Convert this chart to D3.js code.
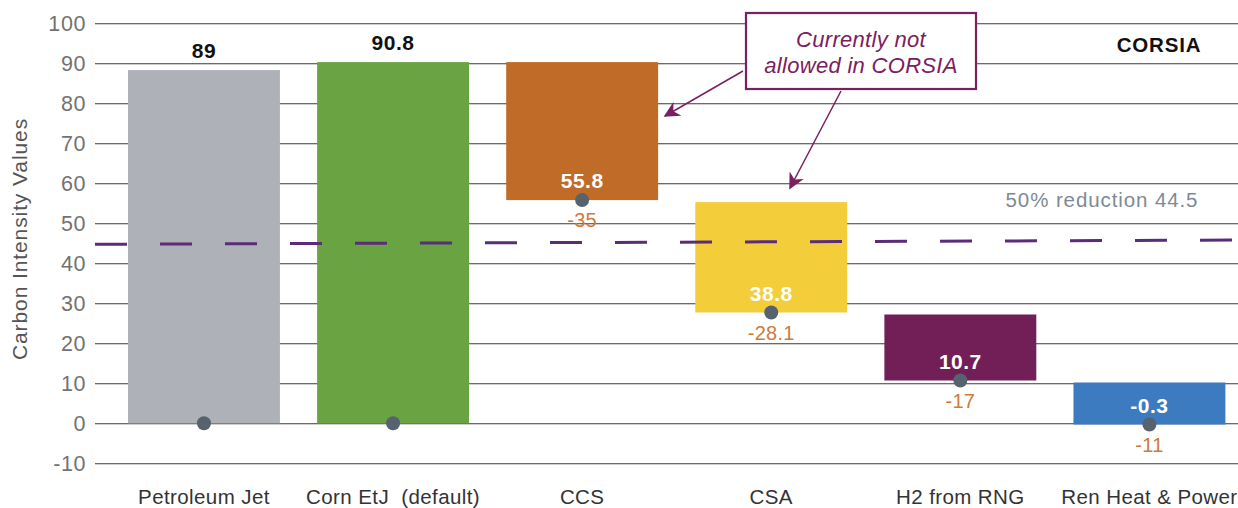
<!DOCTYPE html>
<html><head><meta charset="utf-8">
<script src="https://cdn.jsdelivr.net/npm/d3@7/dist/d3.min.js"></script>
<style>
html,body{margin:0;padding:0;background:#fff;}
svg{display:block;font-family:"Liberation Sans",Arial,Helvetica,sans-serif;}
</style></head>
<body><svg id="chart" width="1238" height="508"></svg>
<script>
const categories = ["Petroleum Jet","Corn EtJ  (default)","CCS","CSA","H2 from RNG","Ren Heat & Power"];
const barTop     = [88.3, 90.3, 90.3, 55.3, 27.2, 10.2];
const barBottom  = [0, 0, 55.8, 27.7, 10.7, -0.3];
const dotValues  = [0, 0, 55.8, 27.7, 10.7, -0.3];
const valueLabels = ["89","90.8","55.8","38.8","10.7","-0.3"];
const deltaLabels = ["","","-35","-28.1","-17","-11"];
const barColors  = ["#aeb1b8","#6aa342","#c06c28","#f4cd3a","#731f57","#3c7bc0"];
const yTicks = [-10,0,10,20,30,40,50,60,70,80,90,100];
const reductionLine = [44.75, 45.8];
const reductionLabel = "50% reduction 44.5";

const svg = d3.select("#chart");
const y = d3.scaleLinear().domain([0,100]).range([423.3,23.3]);
const x = d3.scaleBand().domain(categories).range([109.1,1244.3]).paddingInner(0.1966).paddingOuter(0.1);
const gridX0 = 95, gridX1 = 1238;

// gridlines + tick labels
const yAxis = d3.axisLeft(y).tickValues(yTicks).tickSize(-(gridX1-gridX0)).tickFormat(d => String(d));
const gy = svg.append("g").attr("transform",`translate(${gridX0},0)`).call(yAxis);
gy.select(".domain").remove();
gy.selectAll(".tick line").attr("stroke","#3a3a3a").attr("stroke-width",1.1);
gy.selectAll(".tick text").attr("fill","#727272").attr("font-size",21.5)
  .attr("letter-spacing","0.6px").attr("x",-9).attr("dy","0.35em");

// y axis title
svg.append("text").attr("transform","translate(27,239) rotate(-90)")
  .attr("text-anchor","middle").attr("font-size",21).attr("letter-spacing","0.9px").attr("fill","#555")
  .text("Carbon Intensity Values");

// bars
svg.append("g").selectAll("rect").data(categories).join("rect")
  .attr("x",d=>x(d)).attr("width",x.bandwidth())
  .attr("y",(d,i)=>y(barTop[i]))
  .attr("height",(d,i)=>y(barBottom[i])-y(barTop[i]))
  .attr("fill",(d,i)=>barColors[i]);

// dashed reduction line
svg.append("line")
  .attr("x1",gridX0).attr("x2",1232)
  .attr("y1",y(reductionLine[0])).attr("y2",y(reductionLine[1]))
  .attr("stroke","#5b2c7a").attr("stroke-width",3).attr("stroke-dasharray","32 33");

svg.append("text").attr("x",1102).attr("y",207).attr("text-anchor","middle")
  .attr("font-size",20.5).attr("letter-spacing","0.9px").attr("fill","#7d8a96").text(reductionLabel);

// dots
svg.append("g").selectAll("circle").data(categories).join("circle")
  .attr("cx",d=>x(d)+x.bandwidth()/2).attr("cy",(d,i)=>y(dotValues[i]))
  .attr("r",7).attr("fill","#56636e");

// value labels
svg.append("g").selectAll("text").data(categories).join("text")
  .attr("x",d=>x(d)+x.bandwidth()/2)
  .attr("y",(d,i)=> i<2 ? y(barTop[i])-12 : y(barBottom[i])-12)
  .attr("text-anchor","middle").attr("font-size",21).attr("font-weight","bold").attr("letter-spacing","0.5px")
  .attr("fill",(d,i)=> i<2 ? "#111" : "#fff")
  .text((d,i)=>valueLabels[i]);

// delta labels
svg.append("g").selectAll("text").data(categories).join("text")
  .attr("x",d=>x(d)+x.bandwidth()/2)
  .attr("y",(d,i)=> y(barBottom[i])+27)
  .attr("text-anchor","middle").attr("font-size",20).attr("letter-spacing","0.3px")
  .attr("fill","#d07a3a")
  .text((d,i)=>deltaLabels[i]);

// category labels
svg.append("g").selectAll("text").data(categories).join("text")
  .attr("x",d=>x(d)+x.bandwidth()/2).attr("y",504)
  .attr("text-anchor","middle").attr("font-size",20.5).attr("letter-spacing","0.4px").attr("fill","#333")
  .attr("xml:space","preserve").style("white-space","pre")
  .text(d=>d);

// CORSIA label
svg.append("text").attr("x",1159).attr("y",52).attr("text-anchor","middle")
  .attr("font-size",20.5).attr("font-weight","bold").attr("letter-spacing","0.8px").attr("fill","#111").text("CORSIA");

// callout
const defs = svg.append("defs");
defs.append("marker").attr("id","arr").attr("viewBox","0 0 10 10").attr("refX",9).attr("refY",5)
  .attr("markerWidth",16).attr("markerHeight",16).attr("markerUnits","userSpaceOnUse").attr("orient","auto")
  .append("path").attr("d","M0,0 L10,5 L0,10 L3,5 Z").attr("fill","#7a2060");

svg.append("line").attr("x1",743).attr("y1",71).attr("x2",665).attr("y2",116)
  .attr("stroke","#7a2060").attr("stroke-width",1.5).attr("marker-end","url(#arr)");
svg.append("line").attr("x1",841).attr("y1",91).attr("x2",790).attr("y2",188)
  .attr("stroke","#7a2060").attr("stroke-width",1.5).attr("marker-end","url(#arr)");

svg.append("rect").attr("x",746).attr("y",13).attr("width",230).attr("height",76)
  .attr("fill","#fff").attr("stroke","#7a2060").attr("stroke-width",2.2);
svg.append("text").attr("x",861).attr("y",47).attr("text-anchor","middle")
  .attr("font-size",22).attr("letter-spacing","0.3px").attr("font-style","italic").attr("fill","#7a2060").text("Currently not");
svg.append("text").attr("x",861).attr("y",73).attr("text-anchor","middle")
  .attr("font-size",22).attr("letter-spacing","0.3px").attr("font-style","italic").attr("fill","#7a2060").text("allowed in CORSIA");
</script></body></html>
